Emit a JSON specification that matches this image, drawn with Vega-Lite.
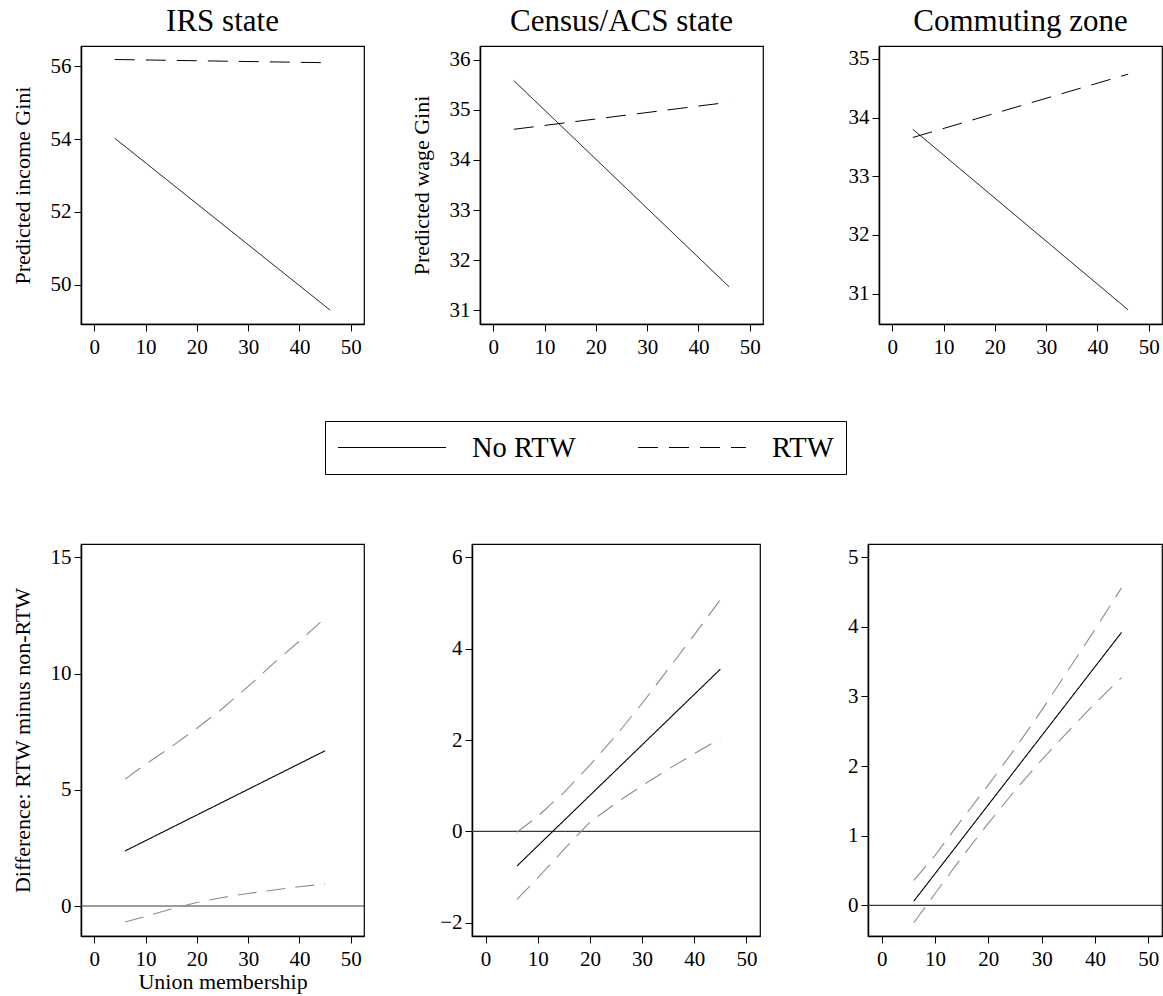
{
  "$schema": "https://vega.github.io/schema/vega-lite/v6.json",
  "background": "white",
  "padding": {"left": 10, "top": 5, "right": 1, "bottom": 2},
  "datasets": {
    "top": [
      {"panel": "IRS state", "group": "No RTW", "x": 4, "y": 54.02},
      {"panel": "IRS state", "group": "No RTW", "x": 46, "y": 49.31},
      {"panel": "IRS state", "group": "RTW", "x": 4, "y": 56.18},
      {"panel": "IRS state", "group": "RTW", "x": 46, "y": 56.09},
      {"panel": "Census/ACS state", "group": "No RTW", "x": 4, "y": 35.58},
      {"panel": "Census/ACS state", "group": "No RTW", "x": 46, "y": 31.47},
      {"panel": "Census/ACS state", "group": "RTW", "x": 4, "y": 34.61},
      {"panel": "Census/ACS state", "group": "RTW", "x": 46, "y": 35.15},
      {"panel": "Commuting zone", "group": "No RTW", "x": 4, "y": 33.80},
      {"panel": "Commuting zone", "group": "No RTW", "x": 46, "y": 30.72},
      {"panel": "Commuting zone", "group": "RTW", "x": 4, "y": 33.66},
      {"panel": "Commuting zone", "group": "RTW", "x": 46, "y": 34.74}
    ],
    "bottom": [
      {"panel": "IRS state", "series": "Difference", "x": 6, "y": 2.37},
      {"panel": "IRS state", "series": "Difference", "x": 45, "y": 6.68},
      {"panel": "IRS state", "series": "Upper", "x": 6, "y": 5.46},
      {"panel": "IRS state", "series": "Upper", "x": 10, "y": 6.1},
      {"panel": "IRS state", "series": "Upper", "x": 15, "y": 6.85},
      {"panel": "IRS state", "series": "Upper", "x": 20, "y": 7.65},
      {"panel": "IRS state", "series": "Upper", "x": 25, "y": 8.5},
      {"panel": "IRS state", "series": "Upper", "x": 30, "y": 9.45},
      {"panel": "IRS state", "series": "Upper", "x": 35, "y": 10.45},
      {"panel": "IRS state", "series": "Upper", "x": 40, "y": 11.4},
      {"panel": "IRS state", "series": "Upper", "x": 45, "y": 12.39},
      {"panel": "IRS state", "series": "Lower", "x": 6, "y": -0.69},
      {"panel": "IRS state", "series": "Lower", "x": 10, "y": -0.45},
      {"panel": "IRS state", "series": "Lower", "x": 15, "y": -0.13},
      {"panel": "IRS state", "series": "Lower", "x": 20, "y": 0.15},
      {"panel": "IRS state", "series": "Lower", "x": 25, "y": 0.37},
      {"panel": "IRS state", "series": "Lower", "x": 30, "y": 0.54},
      {"panel": "IRS state", "series": "Lower", "x": 35, "y": 0.69},
      {"panel": "IRS state", "series": "Lower", "x": 40, "y": 0.83},
      {"panel": "IRS state", "series": "Lower", "x": 45, "y": 0.95},
      {"panel": "Census/ACS state", "series": "Difference", "x": 6, "y": -0.76},
      {"panel": "Census/ACS state", "series": "Difference", "x": 45, "y": 3.55},
      {"panel": "Census/ACS state", "series": "Upper", "x": 6, "y": -0.02},
      {"panel": "Census/ACS state", "series": "Upper", "x": 10, "y": 0.33},
      {"panel": "Census/ACS state", "series": "Upper", "x": 15, "y": 0.85},
      {"panel": "Census/ACS state", "series": "Upper", "x": 20, "y": 1.45},
      {"panel": "Census/ACS state", "series": "Upper", "x": 25, "y": 2.1},
      {"panel": "Census/ACS state", "series": "Upper", "x": 30, "y": 2.8},
      {"panel": "Census/ACS state", "series": "Upper", "x": 35, "y": 3.55},
      {"panel": "Census/ACS state", "series": "Upper", "x": 40, "y": 4.3},
      {"panel": "Census/ACS state", "series": "Upper", "x": 45, "y": 5.07},
      {"panel": "Census/ACS state", "series": "Lower", "x": 6, "y": -1.49},
      {"panel": "Census/ACS state", "series": "Lower", "x": 10, "y": -1.02},
      {"panel": "Census/ACS state", "series": "Lower", "x": 15, "y": -0.4},
      {"panel": "Census/ACS state", "series": "Lower", "x": 20, "y": 0.2},
      {"panel": "Census/ACS state", "series": "Lower", "x": 25, "y": 0.62},
      {"panel": "Census/ACS state", "series": "Lower", "x": 30, "y": 1.0},
      {"panel": "Census/ACS state", "series": "Lower", "x": 35, "y": 1.36},
      {"panel": "Census/ACS state", "series": "Lower", "x": 40, "y": 1.7},
      {"panel": "Census/ACS state", "series": "Lower", "x": 45, "y": 2.03},
      {"panel": "Commuting zone", "series": "Difference", "x": 6, "y": 0.06},
      {"panel": "Commuting zone", "series": "Difference", "x": 45, "y": 3.92},
      {"panel": "Commuting zone", "series": "Upper", "x": 6, "y": 0.36},
      {"panel": "Commuting zone", "series": "Upper", "x": 10, "y": 0.72},
      {"panel": "Commuting zone", "series": "Upper", "x": 15, "y": 1.23},
      {"panel": "Commuting zone", "series": "Upper", "x": 20, "y": 1.73},
      {"panel": "Commuting zone", "series": "Upper", "x": 25, "y": 2.25},
      {"panel": "Commuting zone", "series": "Upper", "x": 30, "y": 2.8},
      {"panel": "Commuting zone", "series": "Upper", "x": 35, "y": 3.38},
      {"panel": "Commuting zone", "series": "Upper", "x": 40, "y": 3.96},
      {"panel": "Commuting zone", "series": "Upper", "x": 45, "y": 4.56},
      {"panel": "Commuting zone", "series": "Lower", "x": 6, "y": -0.25},
      {"panel": "Commuting zone", "series": "Lower", "x": 10, "y": 0.17},
      {"panel": "Commuting zone", "series": "Lower", "x": 15, "y": 0.69},
      {"panel": "Commuting zone", "series": "Lower", "x": 20, "y": 1.18},
      {"panel": "Commuting zone", "series": "Lower", "x": 25, "y": 1.65},
      {"panel": "Commuting zone", "series": "Lower", "x": 30, "y": 2.09},
      {"panel": "Commuting zone", "series": "Lower", "x": 35, "y": 2.5},
      {"panel": "Commuting zone", "series": "Lower", "x": 40, "y": 2.9},
      {"panel": "Commuting zone", "series": "Lower", "x": 45, "y": 3.27}
    ]
  },
  "spacing": 67,
  "vconcat": [
    {
      "bounds": "flush",
      "spacing": 116,
      "hconcat": [
        {
          "width": 283, "height": 278,
          "title": {"text": "IRS state"},
          "data": {"name": "top"},
          "transform": [{"filter": "datum.panel === 'IRS state'"}],
          "mark": {"type": "line", "color": "black", "strokeWidth": 1},
          "encoding": {
            "x": {"field": "x", "type": "quantitative", "scale": {"domain": [-2.6, 52.6], "nice": false, "zero": false}, "axis": {"values": [0, 10, 20, 30, 40, 50], "title": null}},
            "y": {"field": "y", "type": "quantitative", "scale": {"domain": [48.93, 56.55], "nice": false, "zero": false}, "axis": {"values": [50, 52, 54, 56], "title": "Predicted income Gini"}},
            "strokeDash": {"field": "group", "type": "nominal", "scale": {"domain": ["No RTW", "RTW"], "range": [[1, 0], [20, 11]]}, "legend": null}
          }
        },
        {
          "width": 283, "height": 278,
          "title": {"text": "Census/ACS state"},
          "data": {"name": "top"},
          "transform": [{"filter": "datum.panel === 'Census/ACS state'"}],
          "mark": {"type": "line", "color": "black", "strokeWidth": 1},
          "encoding": {
            "x": {"field": "x", "type": "quantitative", "scale": {"domain": [-2.6, 52.6], "nice": false, "zero": false}, "axis": {"values": [0, 10, 20, 30, 40, 50], "title": null}},
            "y": {"field": "y", "type": "quantitative", "scale": {"domain": [30.73, 36.27], "nice": false, "zero": false}, "axis": {"values": [31, 32, 33, 34, 35, 36], "title": "Predicted wage Gini"}},
            "strokeDash": {"field": "group", "type": "nominal", "scale": {"domain": ["No RTW", "RTW"], "range": [[1, 0], [20, 11]]},
              "legend": {"title": null, "orient": "none", "legendX": -155, "legendY": 375, "direction": "horizontal", "clipHeight": 29}}
          }
        },
        {
          "width": 283, "height": 278,
          "title": {"text": "Commuting zone"},
          "data": {"name": "top"},
          "transform": [{"filter": "datum.panel === 'Commuting zone'"}],
          "mark": {"type": "line", "color": "black", "strokeWidth": 1},
          "encoding": {
            "x": {"field": "x", "type": "quantitative", "scale": {"domain": [-2.6, 52.6], "nice": false, "zero": false}, "axis": {"values": [0, 10, 20, 30, 40, 50], "title": null}},
            "y": {"field": "y", "type": "quantitative", "scale": {"domain": [30.48, 35.22], "nice": false, "zero": false}, "axis": {"values": [31, 32, 33, 34, 35], "title": null}},
            "strokeDash": {"field": "group", "type": "nominal", "scale": {"domain": ["No RTW", "RTW"], "range": [[1, 0], [20, 11]]}, "legend": null}
          }
        }
      ],
      "resolve": {"scale": {"strokeDash": "independent"}}
    },
    {
      "bounds": "flush",
      "spacing": 108,
      "hconcat": [
        {
          "width": 283, "height": 392,
          "layer": [
            {
              "data": {"values": [{"zero": 0}]},
              "mark": {"type": "rule", "color": "#3a3a3a", "strokeWidth": 1.2},
              "encoding": {"y": {"field": "zero", "type": "quantitative"}}
            },
            {
              "data": {"name": "bottom"},
              "transform": [{"filter": "datum.panel === 'IRS state'"}],
              "mark": {"type": "line", "strokeWidth": 1.1},
              "encoding": {
                "x": {"field": "x", "type": "quantitative", "scale": {"domain": [-2.6, 52.6], "nice": false, "zero": false}, "axis": {"values": [0, 10, 20, 30, 40, 50], "title": "Union membership"}},
                "y": {"field": "y", "type": "quantitative", "scale": {"domain": [-1.29, 15.58], "nice": false, "zero": false}, "axis": {"values": [0, 5, 10, 15], "format": "d", "title": "Difference: RTW minus non-RTW"}},
                "color": {"field": "series", "type": "nominal", "scale": {"domain": ["Difference", "Lower", "Upper"], "range": ["#000000", "#8c8c8c", "#8c8c8c"]}, "legend": null},
                "strokeDash": {"field": "series", "type": "nominal", "scale": {"domain": ["Difference", "Lower", "Upper"], "range": [[1, 0], [19, 10], [19, 10]]}, "legend": null}
              }
            }
          ]
        },
        {
          "width": 288, "height": 392,
          "layer": [
            {
              "data": {"values": [{"zero": 0}]},
              "mark": {"type": "rule", "color": "#3a3a3a", "strokeWidth": 1.2},
              "encoding": {"y": {"field": "zero", "type": "quantitative"}}
            },
            {
              "data": {"name": "bottom"},
              "transform": [{"filter": "datum.panel === 'Census/ACS state'"}],
              "mark": {"type": "line", "strokeWidth": 1.1},
              "encoding": {
                "x": {"field": "x", "type": "quantitative", "scale": {"domain": [-2.6, 52.6], "nice": false, "zero": false}, "axis": {"values": [0, 10, 20, 30, 40, 50], "title": null}},
                "y": {"field": "y", "type": "quantitative", "scale": {"domain": [-2.29, 6.29], "nice": false, "zero": false}, "axis": {"values": [-2, 0, 2, 4, 6], "format": "d", "title": null}},
                "color": {"field": "series", "type": "nominal", "scale": {"domain": ["Difference", "Lower", "Upper"], "range": ["#000000", "#8c8c8c", "#8c8c8c"]}, "legend": null},
                "strokeDash": {"field": "series", "type": "nominal", "scale": {"domain": ["Difference", "Lower", "Upper"], "range": [[1, 0], [19, 10], [19, 10]]}, "legend": null}
              }
            }
          ]
        },
        {
          "width": 294, "height": 392,
          "layer": [
            {
              "data": {"values": [{"zero": 0}]},
              "mark": {"type": "rule", "color": "#3a3a3a", "strokeWidth": 1.2},
              "encoding": {"y": {"field": "zero", "type": "quantitative"}}
            },
            {
              "data": {"name": "bottom"},
              "transform": [{"filter": "datum.panel === 'Commuting zone'"}],
              "mark": {"type": "line", "strokeWidth": 1.1},
              "encoding": {
                "x": {"field": "x", "type": "quantitative", "scale": {"domain": [-2.6, 52.6], "nice": false, "zero": false}, "axis": {"values": [0, 10, 20, 30, 40, 50], "title": null}},
                "y": {"field": "y", "type": "quantitative", "scale": {"domain": [-0.44, 5.19], "nice": false, "zero": false}, "axis": {"values": [0, 1, 2, 3, 4, 5], "format": "d", "title": null}},
                "color": {"field": "series", "type": "nominal", "scale": {"domain": ["Difference", "Lower", "Upper"], "range": ["#000000", "#8c8c8c", "#8c8c8c"]}, "legend": null},
                "strokeDash": {"field": "series", "type": "nominal", "scale": {"domain": ["Difference", "Lower", "Upper"], "range": [[1, 0], [19, 10], [19, 10]]}, "legend": null}
              }
            }
          ]
        }
      ]
    }
  ],
  "config": {
    "font": "Liberation Serif",
    "view": {"stroke": "black", "strokeWidth": 1.2},
    "axis": {
      "labelFont": "Liberation Serif", "labelFontSize": 21, "labelColor": "black",
      "titleFont": "Liberation Serif", "titleFontSize": 22, "titleFontWeight": "normal", "titleColor": "black",
      "tickColor": "black", "tickSize": 7, "tickWidth": 1,
      "domainColor": "black", "domainWidth": 1.5, "grid": false
    },
    "axisX": {"labelPadding": 5, "titlePadding": 2},
    "axisY": {"labelPadding": 3, "titlePadding": 16, "labelAngle": 0},
    "title": {"font": "Liberation Serif", "fontSize": 31, "fontWeight": "normal", "color": "black", "frame": "group", "offset": 8},
    "legend": {
      "strokeColor": "black", "padding": 12, "symbolType": "stroke", "symbolSize": 11664,
      "symbolStrokeWidth": 1.2, "symbolStrokeColor": "black",
      "labelFont": "Liberation Serif", "labelFontSize": 28.5, "labelColor": "black", "labelOffset": 25,
      "columnPadding": 61, "labelLimit": 400
    }
  }
}
